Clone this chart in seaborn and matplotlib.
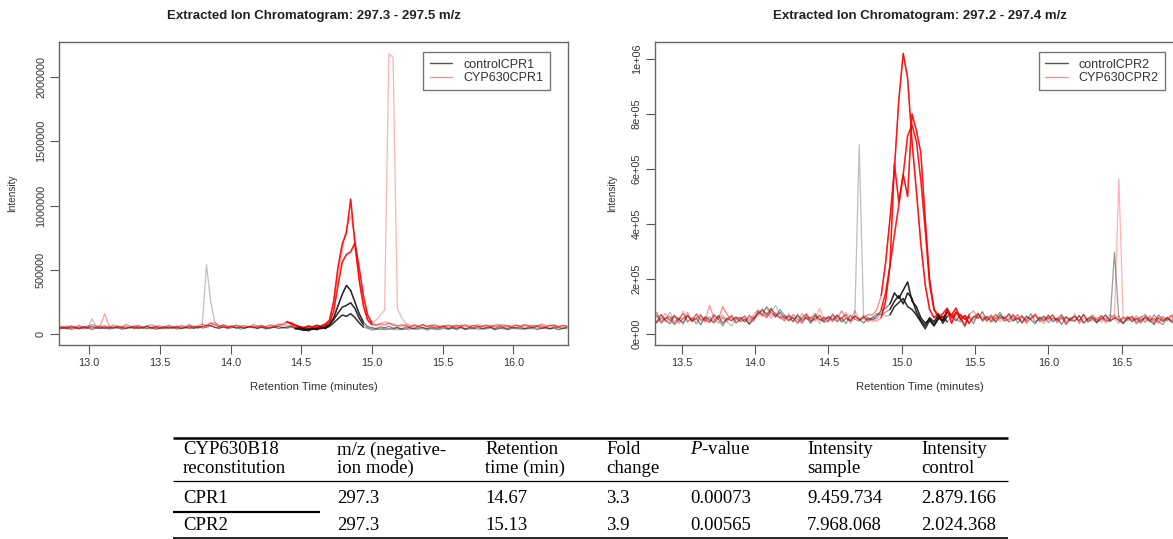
import matplotlib
matplotlib.use("Agg")
import matplotlib.pyplot as plt
from matplotlib.lines import Line2D
import numpy as np
import seaborn as sns

# ---------------------------------------------------------------------------
# Left panel: EIC 297.3 - 297.5 m/z  (intensities in thousands of counts)
# ---------------------------------------------------------------------------
rt_left = [
    12.78, 12.81, 12.84, 12.87, 12.90, 12.93, 12.96, 12.99, 13.02, 13.05,
    13.08, 13.11, 13.14, 13.17, 13.20, 13.23, 13.26, 13.29, 13.32, 13.35,
    13.38, 13.41, 13.44, 13.47, 13.50, 13.53, 13.56, 13.59, 13.62, 13.65,
    13.68, 13.71, 13.74, 13.77, 13.80, 13.83, 13.86, 13.89, 13.92, 13.95,
    13.98, 14.01, 14.04, 14.07, 14.10, 14.13, 14.16, 14.19, 14.22, 14.25,
    14.28, 14.31, 14.34, 14.37, 14.40, 14.43, 14.46, 14.49, 14.52, 14.55,
    14.58, 14.61, 14.64, 14.67, 14.70, 14.73, 14.76, 14.79, 14.82, 14.85,
    14.88, 14.91, 14.94, 14.97, 15.00, 15.03, 15.06, 15.09, 15.12, 15.15,
    15.18, 15.21, 15.24, 15.27, 15.30, 15.33, 15.36, 15.39, 15.42, 15.45,
    15.48, 15.51, 15.54, 15.57, 15.60, 15.63, 15.66, 15.69, 15.72, 15.75,
    15.78, 15.81, 15.84, 15.87, 15.90, 15.93, 15.96, 15.99, 16.02, 16.05,
    16.08, 16.11, 16.14, 16.17, 16.20, 16.23, 16.26, 16.29, 16.32, 16.35,
    16.38,
]
ctrl1_left = [
    48, 55, 42, 60, 51, 45, 58, 50, 62, 47,
    53, 44, 57, 49, 61, 52, 46, 58, 43, 55,
    50, 63, 47, 54, 45, 59, 51, 48, 56, 44,
    52, 60, 46, 55, 58, 72, 65, 54, 49, 57,
    50, 62, 46, 55, 48, 60, 53, 45, 58, 51,
    47, 56, 62, 50, 58, 65, 48, 40, 30, 45,
    38, 52, 44, 60, 75, 130, 220, 310, 380, 340,
    250, 160, 95, 60, 52, 45, 58, 50, 62, 48,
    55, 42, 58, 50, 46, 60, 52, 44, 57, 49,
    53, 61, 45, 55, 48, 58, 42, 54, 50, 62,
    46, 53, 57, 44, 60, 51, 47, 55, 49, 58,
    43, 56, 50, 62, 47, 54, 45, 58, 52, 48,
    55,
]
ctrl2_left = [
    40, 46, 52, 38, 45, 55, 42, 48, 36, 50,
    44, 58, 41, 47, 53, 39, 46, 52, 60, 45,
    49, 42, 55, 38, 47, 51, 44, 57, 40, 48,
    54, 43, 50, 62, 48, 56, 70, 52, 46, 58,
    44, 51, 57, 40, 49, 55, 62, 47, 53, 41,
    50, 58, 44, 52, 47, 56, 42, 55, 35, 28,
    42, 36, 50, 45, 70, 115, 165, 210, 225, 245,
    200, 125, 75, 50, 42, 38, 46, 35, 44, 40,
    48, 36, 42, 50, 38, 45, 52, 40, 47, 36,
    44, 51, 39, 46, 42, 55, 37, 48, 43, 50,
    41, 47, 53, 38, 45, 50, 36, 44, 52, 40,
    48, 42, 55, 39, 46, 51, 43, 49, 37, 45,
    50,
]
ctrl3_left = [
    52, 44, 58, 47, 62, 40, 55, 49, 120, 60,
    46, 53, 42, 58, 50, 45, 61, 48, 55, 43,
    57, 62, 50, 46, 54, 41, 58, 52, 47, 63,
    49, 55, 60, 45, 70, 540, 250, 90, 62, 75,
    58, 66, 50, 57, 48, 61, 55, 50, 59, 46,
    54, 60, 48, 56, 51, 62, 45, 38, 48, 33,
    45, 40, 55, 48, 62, 90, 120, 150, 140, 160,
    130, 90, 55, 45, 30, 42, 35, 48, 38, 44,
    32, 46, 40, 35, 50, 38, 44, 30, 42, 48,
    36, 45, 40, 52, 33, 47, 41, 38, 50, 35,
    44, 39, 48, 34, 46, 42, 37, 51, 40, 45,
    36, 49, 42, 38, 53, 44, 40, 47, 35, 46,
    42,
]
samp1_left = [
    55, 62, 48, 66, 58, 70, 52, 60, 75, 64,
    57, 68, 50, 72, 61, 55, 78, 63, 58, 70,
    52, 65, 74, 59, 67, 53, 71, 62, 56, 69,
    61, 75, 58, 66, 80, 64, 92, 70, 60, 73,
    65, 58, 72, 63, 68, 55, 76, 62, 70, 59,
    74, 66, 80, 71, 95, 88, 72, 60, 52, 65,
    58, 70, 64, 80, 110, 260, 520, 700, 790, 1050,
    700, 420, 220, 110, 75, 68, 80, 72, 85, 70,
    62, 74, 66, 58, 70, 63, 77, 60, 68, 72,
    56, 65, 71, 59, 67, 62, 75, 58, 69, 64,
    60, 72, 57, 66, 74, 61, 68, 55, 70, 63,
    76, 59, 67, 62, 73, 58, 65, 71, 60, 68,
    64,
]
samp2_left = [
    45, 52, 60, 47, 56, 42, 63, 50, 46, 58,
    70, 160, 65, 54, 48, 61, 44, 57, 52, 66,
    49, 58, 43, 62, 55, 47, 60, 51, 64, 45,
    53, 68, 57, 49, 62, 55, 72, 80, 58, 66,
    52, 61, 70, 56, 48, 64, 53, 59, 67, 50,
    58, 63, 72, 85, 100, 78, 65, 55, 48, 60,
    52, 66, 58, 72, 90, 180, 380, 560, 620, 640,
    710, 520, 300, 150, 90, 72, 85, 95, 88, 80,
    70, 64, 76, 58, 68, 55, 72, 61, 66, 57,
    63, 70, 54, 67, 59, 74, 62, 56, 69, 60,
    65, 58, 72, 61, 55, 68, 63, 57, 71, 59,
    64, 70, 56, 67, 61, 58, 73, 62, 55, 66,
    60,
]
samp3_left = [
    60, 50, 68, 55, 45, 62, 53, 70, 48, 57,
    64, 52, 58, 47, 66, 55, 60, 49, 72, 54,
    61, 46, 56, 68, 51, 63, 57, 48, 65, 53,
    59, 50, 66, 55, 62, 70, 85, 95, 68, 60,
    57, 64, 52, 69, 58, 62, 50, 66, 55, 61,
    68, 54, 63, 75, 70, 62, 55, 48, 58, 52,
    60, 55, 68, 75, 100, 230, 450, 650, 830, 920,
    760, 450, 240, 130, 90, 110, 150, 190, 2180, 2150,
    200, 130, 85, 70, 78, 64, 72, 60, 75, 68,
    62, 58, 70, 65, 74, 60, 68, 72, 63, 78,
    66, 71, 60, 75, 68, 80, 64, 70, 74, 62,
    77, 65, 72, 68, 82, 70, 66, 75, 63, 71,
    68,
]
ctrl_window_left = (14.46, 14.94)
samp_window_left = (14.40, 15.00)

# ---------------------------------------------------------------------------
# Right panel: EIC 297.2 - 297.4 m/z  (intensities in thousands of counts)
# ---------------------------------------------------------------------------
rt_right = [
    13.30, 13.33, 13.36, 13.39, 13.42, 13.45, 13.48, 13.51, 13.54, 13.57,
    13.60, 13.63, 13.66, 13.69, 13.72, 13.75, 13.78, 13.81, 13.84, 13.87,
    13.90, 13.93, 13.96, 13.99, 14.02, 14.05, 14.08, 14.11, 14.14, 14.17,
    14.20, 14.23, 14.26, 14.29, 14.32, 14.35, 14.38, 14.41, 14.44, 14.47,
    14.50, 14.53, 14.56, 14.59, 14.62, 14.65, 14.68, 14.71, 14.74, 14.77,
    14.80, 14.83, 14.86, 14.89, 14.92, 14.95, 14.98, 15.01, 15.04, 15.07,
    15.10, 15.13, 15.16, 15.19, 15.22, 15.25, 15.28, 15.31, 15.34, 15.37,
    15.40, 15.43, 15.46, 15.49, 15.52, 15.55, 15.58, 15.61, 15.64, 15.67,
    15.70, 15.73, 15.76, 15.79, 15.82, 15.85, 15.88, 15.91, 15.94, 15.97,
    16.00, 16.03, 16.06, 16.09, 16.12, 16.15, 16.18, 16.21, 16.24, 16.27,
    16.30, 16.33, 16.36, 16.39, 16.42, 16.45, 16.48, 16.51, 16.54, 16.57,
    16.60, 16.63, 16.66, 16.69, 16.72, 16.75, 16.78, 16.81, 16.84, 16.87,
    16.90,
]
ctrl1_right = [
    60, 45, 72, 50, 38, 66, 55, 42, 70, 48,
    58, 35, 64, 52, 44, 68, 40, 57, 49, 62,
    46, 55, 38, 60, 75, 88, 70, 95, 62, 80,
    58, 66, 45, 72, 50, 61, 40, 68, 55, 47,
    63, 52, 70, 44, 58, 49, 66, 55, 41, 60,
    52, 68, 85, 95, 110, 150, 130, 160, 190, 120,
    100, 60, 40, 55, 35, 60, 50, 80, 65, 48,
    72, 55, 40, 66, 58, 82, 50, 63, 45, 70,
    56, 74, 48, 60, 42, 67, 53, 38, 62, 50,
    70, 45, 58, 36, 64, 52, 47, 68, 40, 57,
    62, 44, 55, 70, 48, 60, 52, 38, 63, 46,
    58, 41, 66, 50, 35, 59, 47, 62, 44, 55,
    50,
]
ctrl2_right = [
    48, 70, 40, 58, 65, 35, 52, 76, 44, 60,
    38, 66, 50, 45, 72, 55, 30, 58, 64, 40,
    54, 68, 36, 50, 85, 72, 100, 78, 66, 90,
    70, 50, 62, 40, 58, 75, 48, 55, 68, 42,
    50, 74, 46, 62, 38, 70, 55, 48, 65, 52,
    60, 75, 70, 80, 90, 120, 140, 110, 150, 130,
    80, 50, 30, 60, 45, 70, 40, 65, 72, 55,
    45, 68, 60, 38, 75, 50, 62, 44, 58, 80,
    48, 55, 70, 40, 62, 50, 75, 45, 58, 66,
    42, 60, 52, 70, 38, 55, 64, 48, 72, 45,
    56, 40, 68, 52, 46, 297, 60, 42, 55, 64,
    38, 52, 60, 45, 70, 48, 35, 58, 50, 62,
    44,
]
ctrl3_right = [
    75, 40, 60, 52, 80, 45, 58, 35, 66, 50,
    72, 48, 55, 62, 38, 58, 70, 45, 30, 55,
    62, 44, 70, 58, 65, 95, 60, 82, 105, 70,
    48, 75, 55, 65, 42, 60, 52, 70, 38, 62,
    56, 45, 68, 50, 72, 40, 58, 688, 60, 48,
    62, 55, 80, 65, 70, 100, 115, 130, 100, 90,
    70, 45, 20, 50, 30, 55, 65, 45, 58, 70,
    52, 40, 65, 55, 78, 46, 60, 70, 42, 58,
    66, 45, 52, 72, 38, 60, 55, 68, 44, 50,
    60, 70, 40, 55, 62, 48, 75, 38, 58, 52,
    68, 45, 60, 50, 72, 55, 40, 62, 48, 58,
    52, 66, 45, 58, 40, 70, 55, 48, 62, 42,
    58,
]
samp1_right = [
    55, 80, 45, 62, 50, 70, 40, 58, 66, 48,
    75, 52, 60, 42, 68, 55, 100, 72, 50, 62,
    58, 45, 66, 54, 80, 70, 62, 90, 75, 58,
    65, 48, 72, 55, 40, 68, 58, 76, 50, 62,
    45, 70, 55, 85, 60, 48, 66, 52, 58, 72,
    70, 90, 140, 260, 420, 600, 850, 1020, 930, 700,
    520, 330, 180, 90, 60, 75, 50, 85, 70, 95,
    55, 68, 40, 62, 75, 52, 66, 48, 70, 58,
    62, 45, 72, 55, 68, 40, 58, 75, 50, 64,
    56, 70, 48, 62, 35, 58, 66, 50, 72, 45,
    60, 52, 68, 42, 58, 70, 48, 62, 55, 66,
    44, 60, 72, 50, 58, 40, 65, 52, 70, 46,
    60,
]
samp2_right = [
    65, 42, 58, 75, 50, 38, 62, 55, 80, 45,
    60, 70, 48, 105, 58, 40, 62, 52, 68, 44,
    56, 62, 48, 70, 90, 65, 80, 58, 72, 60,
    50, 68, 58, 42, 75, 55, 62, 48, 70, 52,
    66, 58, 45, 60, 72, 50, 85, 55, 62, 45,
    55, 48, 60, 120, 250, 620, 480, 580, 500, 800,
    740, 660, 420, 200, 90, 70, 50, 90, 40, 80,
    60, 30, 72, 85, 58, 66, 45, 70, 55, 62,
    48, 75, 60, 52, 68, 45, 62, 70, 55, 40,
    65, 52, 58, 72, 45, 60, 50, 68, 42, 58,
    70, 55, 45, 62, 50, 58, 66, 40, 60, 52,
    68, 48, 56, 62, 45, 70, 52, 60, 42, 66,
    55,
]
samp3_right = [
    50, 62, 70, 44, 58, 66, 50, 85, 48, 60,
    55, 75, 42, 62, 50, 68, 58, 45, 70, 52,
    62, 50, 58, 48, 72, 85, 95, 68, 78, 62,
    70, 55, 48, 65, 58, 72, 44, 60, 95, 55,
    62, 48, 70, 55, 80, 58, 66, 52, 70, 60,
    45, 60, 90, 150, 250, 360, 470, 580, 720, 760,
    700, 560, 380, 180, 90, 60, 75, 95, 60, 80,
    70, 55, 62, 48, 70, 58, 65, 52, 75, 45,
    58, 66, 50, 72, 45, 62, 55, 68, 48, 60,
    52, 70, 45, 62, 58, 50, 66, 42, 70, 55,
    48, 62, 55, 70, 50, 58, 565, 52, 66, 45,
    60, 55, 42, 68, 50, 62, 45, 58, 70, 52,
    62,
]
ctrl_window_right = (14.92, 15.31)
samp_window_right = (14.86, 15.46)

# Axis ticks / labels
xticks_left = [13.0, 13.5, 14.0, 14.5, 15.0, 15.5, 16.0]
yticks_left = [0, 500000, 1000000, 1500000, 2000000]
ylabels_left = ["0", "500000", "1000000", "1500000", "2000000"]
xticks_right = [13.5, 14.0, 14.5, 15.0, 15.5, 16.0, 16.5]
yticks_right = [0, 200000, 400000, 600000, 800000, 1000000]
ylabels_right = ["0e+00", "2e+05", "4e+05", "6e+05", "8e+05", "1e+06"]

# Table contents
table_head_1 = ["CYP630B18", "m/z (negative-", "Retention", "Fold", r"$P$-value", "Intensity", "Intensity"]
table_head_2 = ["reconstitution", "ion mode)", "time (min)", "change", "", "sample", "control"]
table_cpr1 = ["CPR1", "297.3", "14.67", "3.3", "0.00073", "9.459.734", "2.879.166"]
table_cpr2 = ["CPR2", "297.3", "15.13", "3.9", "0.00565", "7.968.068", "2.024.368"]

# ---------------------------------------------------------------------------
sns.set_theme(style="ticks")
plt.rcParams["font.family"] = ["Liberation Sans", "DejaVu Sans"]
plt.rcParams["mathtext.fontset"] = "custom"
plt.rcParams["mathtext.rm"] = "Liberation Serif"
plt.rcParams["mathtext.it"] = "Liberation Serif:italic"

W, H = 1173, 539
fig = plt.figure(figsize=(W / 100, H / 100), dpi=100)
fig.patch.set_facecolor("white")


def px_box(x0, x1, y0, y1):
    """Pixel box (top-left origin) -> figure fraction rect."""
    return [x0 / W, 1 - y1 / H, (x1 - x0) / W, (y1 - y0) / H]


def draw_panel(ax, rt, controls, samples, ctrl_win, samp_win, n_samp_hl):
    rt = np.asarray(rt)
    ctrl_alpha = [0.5, 0.4, 0.25]
    samp_alpha = [0.5, 0.4, 0.3]
    for vals, a in zip(controls, ctrl_alpha):
        sns.lineplot(x=rt, y=np.asarray(vals) * 1000, color="black", alpha=a,
                     lw=0.9, estimator=None, ax=ax)
    for vals, a in zip(samples, samp_alpha):
        sns.lineplot(x=rt, y=np.asarray(vals) * 1000, color="red", alpha=a,
                     lw=0.9, estimator=None, ax=ax)
    # integrated peak region drawn on top in full colour
    m = (rt >= samp_win[0]) & (rt <= samp_win[1])
    for vals in samples[:n_samp_hl]:
        sns.lineplot(x=rt[m], y=np.asarray(vals)[m] * 1000, color="red", alpha=0.85,
                     lw=1.1, estimator=None, ax=ax)
    m = (rt >= ctrl_win[0]) & (rt <= ctrl_win[1])
    for vals in controls:
        sns.lineplot(x=rt[m], y=np.asarray(vals)[m] * 1000, color="#111111", alpha=0.8,
                     lw=1.1, estimator=None, ax=ax)


def style_panel(ax, xlim, ylim, xticks, yticks, ylabels, ylab_x):
    ax.set_xlim(*xlim)
    ax.set_ylim(*ylim)
    ax.set_xticks(xticks)
    ax.set_xticklabels([f"{t:.1f}" for t in xticks])
    ax.set_yticks(yticks)
    ax.set_yticklabels(ylabels, rotation=90, va="center")
    ax.tick_params(direction="out", length=6.5, width=0.8, color="#555555",
                   labelsize=7.8, labelcolor="#333333", pad=3)
    for s in ax.spines.values():
        s.set_color("#666666")
        s.set_linewidth(1.0)
    ax.set_xlabel("Retention Time (minutes)", fontsize=8.2, color="#333333")
    ax.set_ylabel("Intensity", fontsize=7.2, color="#333333")
    ax.xaxis.set_label_coords(0.5, -0.122)
    ax.yaxis.set_label_coords(ylab_x, 0.5)


def add_legend(ax, labels, right_px, top_px):
    handles = [Line2D([], [], color="#555555", lw=1.0),
               Line2D([], [], color="#ff8f8f", lw=1.0)]
    leg = ax.legend(handles, labels, loc="upper right",
                    bbox_to_anchor=(right_px / W, 1 - top_px / H),
                    bbox_transform=fig.transFigure, borderaxespad=0,
                    fontsize=9, frameon=True, fancybox=False,
                    handlelength=1.8, handletextpad=0.9, labelspacing=0.12,
                    borderpad=0.5)
    leg.get_frame().set_edgecolor("#555555")
    leg.get_frame().set_linewidth(1.0)
    for t in leg.get_texts():
        t.set_color("#333333")


ax_l = fig.add_axes(px_box(59.2, 568.4, 41.5, 345))
draw_panel(ax_l, rt_left, [ctrl1_left, ctrl2_left, ctrl3_left],
           [samp1_left, samp2_left, samp3_left], ctrl_window_left, samp_window_left, 2)
style_panel(ax_l, (12.788, 16.39), (-83000, 2274000), xticks_left, yticks_left,
            ylabels_left, -0.082)
add_legend(ax_l, ["controlCPR1", "CYP630CPR1"], 549.5, 52.3)

ax_r = fig.add_axes(px_box(655, 1185, 41.5, 345))
draw_panel(ax_r, rt_right, [ctrl1_right, ctrl2_right, ctrl3_right],
           [samp1_right, samp2_right, samp3_right], ctrl_window_right, samp_window_right, 3)
style_panel(ax_r, (13.318, 16.931), (-39000, 1063000), xticks_right, yticks_right,
            ylabels_right, -0.071)
add_legend(ax_r, ["controlCPR2", "CYP630CPR2"], 1165, 52.3)

fig.text(313.5 / W, 1 - 15.7 / H, "Extracted Ion Chromatogram: 297.3 - 297.5 m/z",
         ha="center", va="center", fontsize=9.5, fontweight="bold", color="#222222")
fig.text(920 / W, 1 - 15.7 / H, "Extracted Ion Chromatogram: 297.2 - 297.4 m/z",
         ha="center", va="center", fontsize=9.5, fontweight="bold", color="#222222")

# ---------------------------------------------------------------------------
# Table below the chromatograms (pixel coordinates)
# ---------------------------------------------------------------------------
ax_t = fig.add_axes([0, 0, 1, 1], zorder=-1)
ax_t.set_xlim(0, W)
ax_t.set_ylim(H, 0)
ax_t.axis("off")

col_x = [183, 337, 485, 606, 690, 807, 921]
row_y = [450, 468.5, 498.5, 525]
for row, y in zip([table_head_1, table_head_2, table_cpr1, table_cpr2], row_y):
    for x, s in zip(col_x, row):
        ax_t.text(x, y, s, ha="left", va="center", fontsize=13.5,
                  family="Liberation Serif", color="black")

ax_t.plot([173, 1008], [437.5, 437.5], color="black", lw=1.8, solid_capstyle="butt")
ax_t.plot([173, 1008], [480.5, 480.5], color="black", lw=0.9, solid_capstyle="butt")
ax_t.plot([173, 320], [512, 512], color="black", lw=1.6, solid_capstyle="butt")
ax_t.plot([173, 1008], [537.5, 537.5], color="black", lw=1.2, solid_capstyle="butt")

fig.savefig("out.png", dpi=100, facecolor="white")
